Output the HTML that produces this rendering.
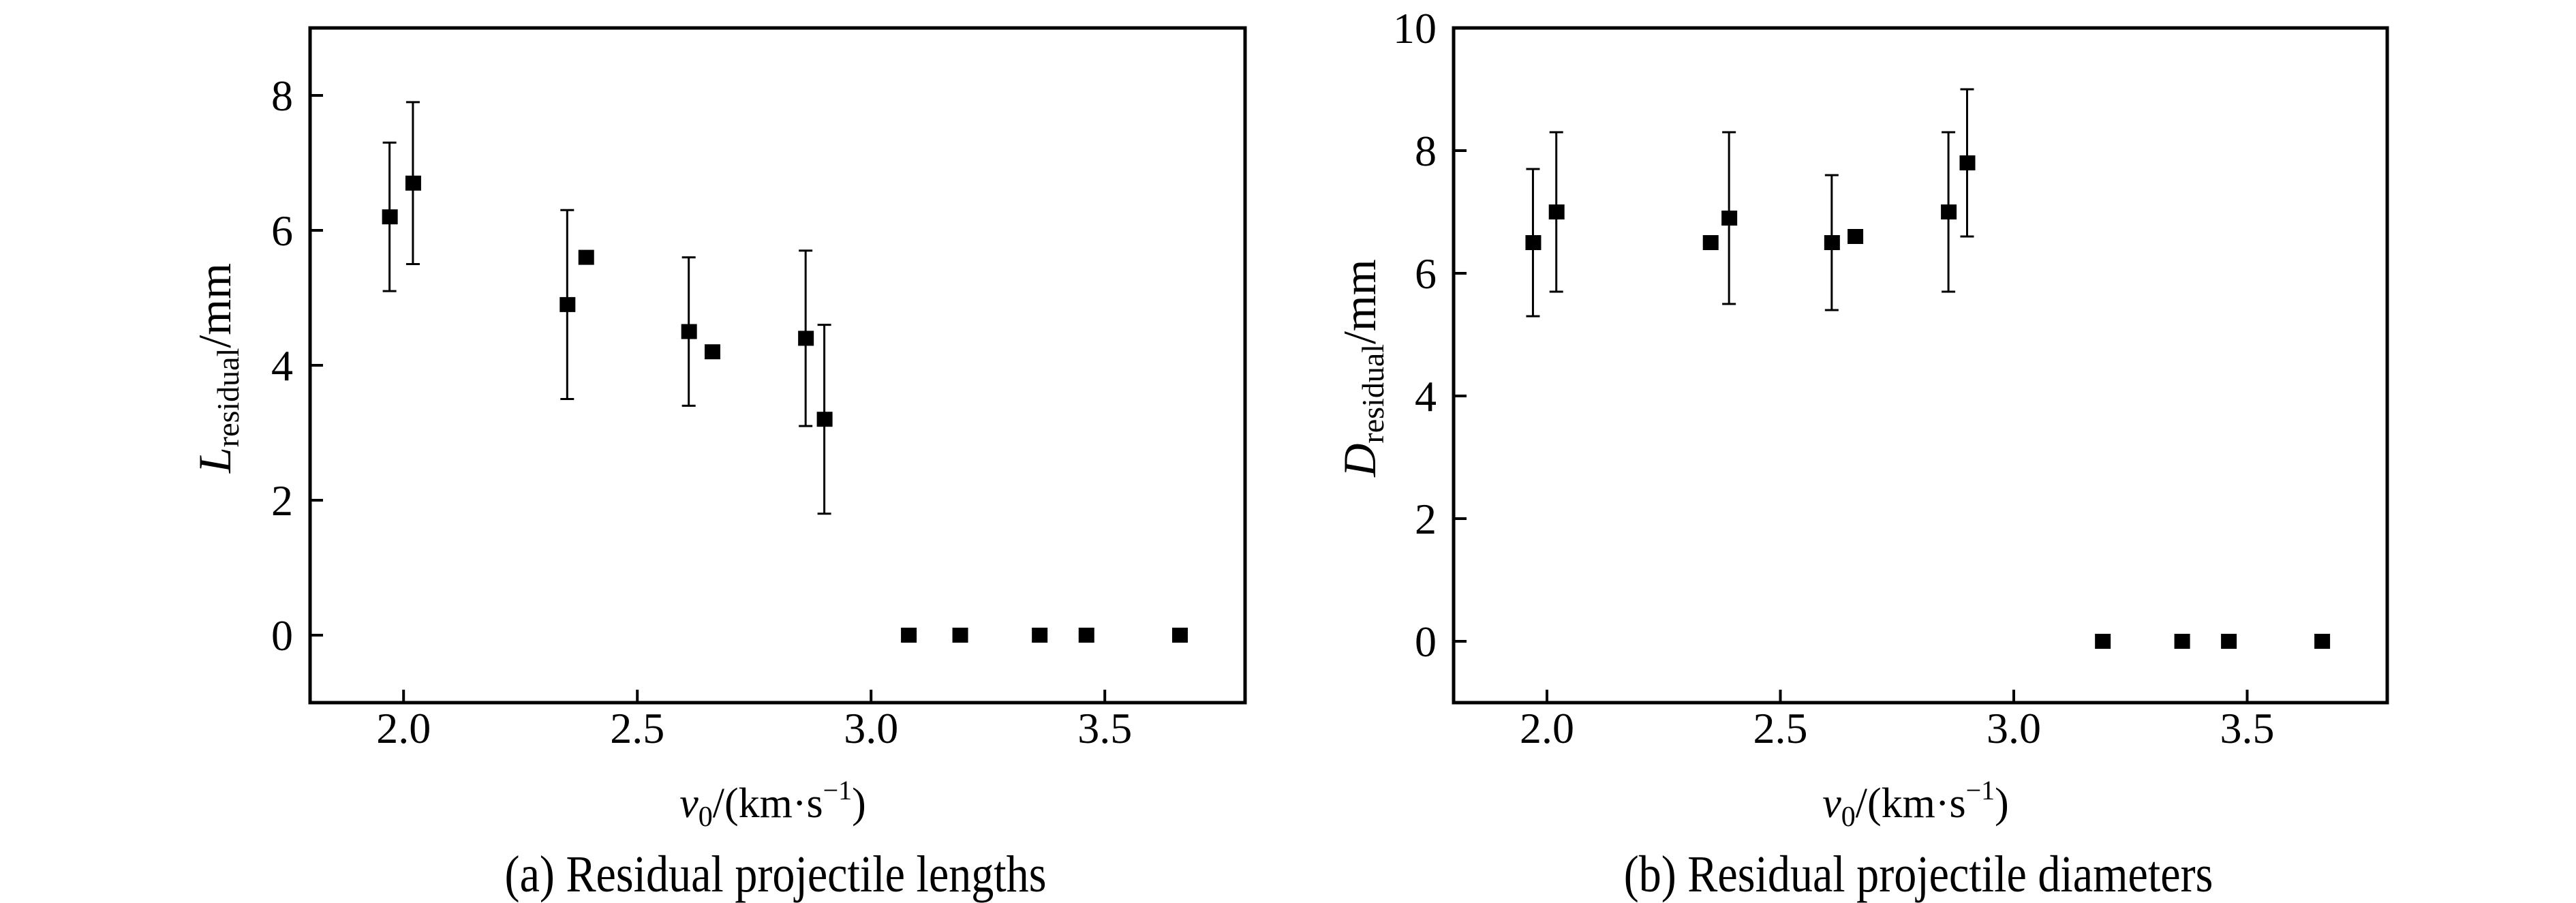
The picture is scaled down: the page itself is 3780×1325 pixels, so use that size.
<!DOCTYPE html>
<html><head><meta charset="utf-8"><style>
html,body{margin:0;padding:0;background:#fff;}
svg{display:block;font-family:"Liberation Serif","Times New Roman",serif;}
</style></head><body>
<svg id="fig" width="3780" height="1325" viewBox="0 0 3780 1325" xmlns="http://www.w3.org/2000/svg">
<rect width="3780" height="1325" fill="#fff"/>
<g id="pa"></g>
<g id="pb"></g>
</svg>
<script>
const xTicks=[2.0,2.5,3.0,3.5];
const xTickLabels=["2.0","2.5","3.0","3.5"];
const aX=[1.97,2.02,2.35,2.39,2.61,2.66,2.86,2.90,3.08,3.19,3.36,3.46,3.66];
const aY=[6.2,6.7,4.9,5.6,4.5,4.2,4.4,3.2,0,0,0,0,0];
const aErr=[1.1,1.2,1.4,null,1.1,null,1.3,1.4,null,null,null,null,null];
const aYTicks=[0,2,4,6,8];
const bX=[1.97,2.02,2.35,2.39,2.61,2.66,2.86,2.90,3.19,3.36,3.46,3.66];
const bY=[6.5,7.0,6.5,6.9,6.5,6.6,7.0,7.8,0,0,0,0];
const bErr=[1.2,1.3,null,1.4,1.1,null,1.3,1.2,null,null,null,null];
const bYTicks=[0,2,4,6,8,10];

const NS="http://www.w3.org/2000/svg";
function mk(parent,tag,attrs,text){const e=document.createElementNS(NS,tag);for(const k in attrs)e.setAttribute(k,attrs[k]);if(text!==undefined)e.textContent=text;parent.appendChild(e);return e;}

function panel(g,cfg){
  const L=cfg.left,R=cfg.right,T=41,B=1031;
  const sx=v=>L+(v-1.8)/(3.8-1.8)*(R-L);
  const sy=v=>B-(v-cfg.ymin)/(cfg.ymax-cfg.ymin)*(B-T);
  cfg.yTicks.forEach(t=>{
    const tk=mk(g,'line',{x1:L,x2:L+19,y1:sy(t),y2:sy(t),stroke:'#000','stroke-width':4});
    
    
    const lb=mk(g,'text',{x:L-25,y:sy(t)+22,'text-anchor':'end','font-size':64},String(t));
    
    
  });
  xTicks.forEach((t,i)=>{
    const tk=mk(g,'line',{x1:sx(t),x2:sx(t),y1:B,y2:B-19,stroke:'#000','stroke-width':4});
    
    
    const lb=mk(g,'text',{x:sx(t),y:1090,'text-anchor':'middle','font-size':64},xTickLabels[i]);
    
    
  });
  cfg.x.forEach((xv,i)=>{
    const px=sx(xv),py=sy(cfg.y[i]);
    const e=cfg.err[i];
    if(e!==null){
      const eg=mk(g,'g',{stroke:'#000','stroke-width':3});
      
      
      mk(eg,'line',{x1:px,x2:px,y1:sy(cfg.y[i]-e),y2:sy(cfg.y[i]+e)});
      mk(eg,'line',{x1:px-10,x2:px+10,y1:sy(cfg.y[i]-e),y2:sy(cfg.y[i]-e)});
      mk(eg,'line',{x1:px-10,x2:px+10,y1:sy(cfg.y[i]+e),y2:sy(cfg.y[i]+e)});
    }
    const m=mk(g,'rect',{x:px-11,y:py-11,width:23,height:22,fill:'#000'});
    
    
  });
  const fr=mk(g,'rect',{x:L,y:T,width:R-L,height:B-T,fill:'none',stroke:'#000','stroke-width':5});
  
  
  const cx=(L+R)/2-7;
  const xl=mk(g,'text',{x:cx,y:1199,'text-anchor':'middle','font-size':62});
  
  
  xl.innerHTML='<tspan font-style="italic">v</tspan><tspan font-size="42" dy="13">0</tspan><tspan dy="-13">/(km·s</tspan><tspan font-size="40" dy="-26">−1</tspan><tspan dy="26">)</tspan>';
  const yl=mk(g,'text',{x:0,y:0,'text-anchor':'middle','font-size':68,transform:`translate(${cfg.ylx},540) rotate(-90)`});
  
  
  yl.innerHTML='<tspan font-style="italic">'+cfg.sym+'</tspan><tspan font-size="46" dy="12">residual</tspan><tspan dy="-12">/mm</tspan>';
  const cap=mk(g,'text',{x:0,y:0,'text-anchor':'middle','font-size':76,transform:`translate(${cx+4},1308) scale(0.87,1)`},cfg.caption);
  
  
}
panel(document.getElementById('pa'),{left:455,right:1827,ymin:-1,ymax:9,yTicks:aYTicks,x:aX,y:aY,err:aErr,ylx:338,sym:'L',caption:'(a) Residual projectile lengths'});
panel(document.getElementById('pb'),{left:2133,right:3503,ymin:-1,ymax:10,yTicks:bYTicks,x:bX,y:bY,err:bErr,ylx:2018,sym:'D',caption:'(b) Residual projectile diameters'});
</script>
</body></html>
